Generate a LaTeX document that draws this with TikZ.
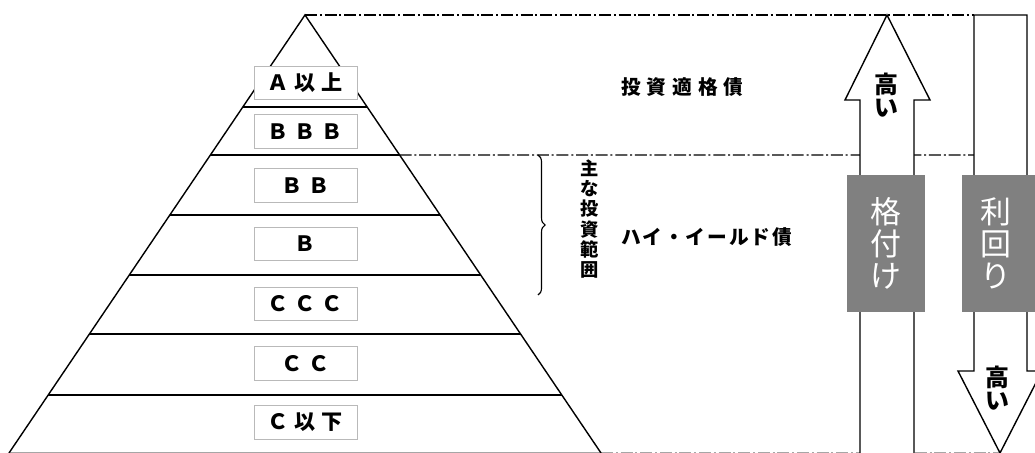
\documentclass[tikz,border=0pt]{standalone}
\usepackage{fontspec}
\usepackage{tikz}
\usetikzlibrary{calc}
\usetikzlibrary{decorations.pathreplacing}
\newfontfamily\jp{Noto Sans CJK JP}
\newfontfamily\jpwide[LetterSpace=28]{Noto Sans CJK JP}
\newfontfamily\jpmid[LetterSpace=30]{Noto Sans CJK JP}
\newfontfamily\jpkana[LetterSpace=10]{Noto Sans CJK JP}
\definecolor{tagbg}{RGB}{128,128,128}
\definecolor{rankborder}{RGB}{185,185,185}
\tikzstyle{tier} = [line width=1pt, draw=black]
\tikzstyle{divide} = [line width=1pt, dash pattern=on 0.3cm off 0.07cm on 0.05cm off 0.07cm]
\tikzstyle{rank} = [draw=rankborder, line width=0.6pt, fill=white, minimum width=2.575cm, minimum height=0.83cm, inner sep=0pt, font=\jpwide\bfseries\fontsize{15}{16}\selectfont]
\tikzstyle{bigarrow} = [line width=1pt, draw=black, fill=white]
\tikzstyle{tag} = [fill=tagbg, minimum width=1.95cm, minimum height=3.425cm, inner sep=0pt]
\tikzstyle{tagtext} = [text=white, align=center, inner sep=0pt, font=\jp\fontsize{22}{22.8}\selectfont]
\tikzstyle{high} = [align=center, inner sep=0pt, font=\jp\bfseries\fontsize{17}{16.4}\selectfont]

\begin{document}
\begin{tikzpicture}[x=0.025cm, y=-0.025cm]
    \useasboundingbox (0,0) rectangle (1035,453);
    \clip (0,0) rectangle (1035,453);
    % pyramid corners
    \coordinate (apex) at (305,15);
    \coordinate (bl) at (9,453);
    \coordinate (br) at (601,453);
    \coordinate (midl) at ($(apex)!0.3196!(bl)$);
    \coordinate (midr) at ($(apex)!0.3196!(br)$);
    \coordinate (boxtop) at (974,15);
    \coordinate (boxmid) at (974,155);
    \coordinate (tip) at (1000,453);

    % dash-dot guide lines
    \draw[divide] (apex) -- (boxtop);
    \draw[divide] (midr) -- (boxmid);
    \draw[divide, draw=black!35] (br) -- (tip);

    % pyramid
    \draw[tier, draw=black!35] (bl) -- (br);
    \draw[tier] (bl) -- (apex) -- (br);
    \foreach \t in {0.210,0.3196,0.4566,0.5936,0.7283,0.8676}
        \draw[tier] ($(apex)!\t!(bl)$) -- ($(apex)!\t!(br)$);

    % ratings
    \node[rank] (aup) at (305.5,83) {Ａ以上};
    \node[rank] (bbb) at (305.5,131.5) {ＢＢＢ};
    \node[rank] (bb) at (305.5,185.5) {ＢＢ};
    \node[rank] (b) at (305.5,244) {Ｂ};
    \node[rank] (ccc) at (305.5,304) {ＣＣＣ};
    \node[rank] (cc) at (305.5,363.5) {ＣＣ};
    \node[rank] (cdown) at (305.5,422.5) {Ｃ以下};

    % range brace
    \coordinate (bracetop) at (538,155);
    \coordinate (bracebot) at (538,295);
    \draw[line width=0.8pt, decorate, decoration={brace, amplitude=5pt}] (bracetop) -- (bracebot);
    \node[align=center, inner sep=0pt, font=\jp\bfseries\fontsize{13}{14.4}\selectfont] (range) at (590,219) {主\\な\\投\\資\\範\\囲};

    % bond classes
    \node[anchor=west, inner sep=0pt, font=\jpmid\bfseries\fontsize{14}{15}\selectfont] (grade) at (621,87) {投資適格債};
    \node[anchor=west, inner sep=0pt, font=\jpkana\bfseries\fontsize{14}{15}\selectfont] (junk) at (621,237) {ハイ・イールド債};

    % rating arrow (up)
    \draw[bigarrow] (860,455) -- (860,100) -- (845,100) -- (887,15) -- (930,100) -- (914,100) -- (914,455);
    \node[high] (uphigh) at (886,95) {高\\い};
    % yield arrow (down)
    \draw[bigarrow] (boxtop) -- (1027,15) -- (1027,371) -- (1042,371) -- (tip) -- (958,371) -- (974,371) -- cycle;
    \node[high] (downhigh) at (997,388) {高\\い};

    % grey tags
    \node[tag] (rating) at (886,243.5) {};
    \node[tagtext] at (rating) {格\\付\\け};
    \node[tag] (yield) at (1001,243.5) {};
    \node[tagtext] at (996,243) {利\\回\\り};
\end{tikzpicture}
\end{document}
